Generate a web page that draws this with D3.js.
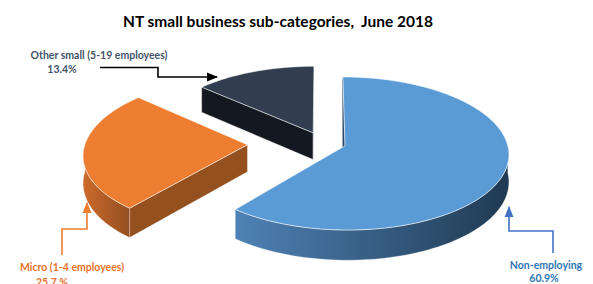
<!DOCTYPE html>
<html>
<head>
<meta charset="utf-8">
<script src="https://cdn.jsdelivr.net/npm/d3@7"></script>
<style>
body { margin: 0; background: #fff; }
svg { display: block; }
text { font-family: Lato, "Open Sans", sans-serif; font-weight: bold; white-space: pre; }
</style>
</head>
<body>
<svg id="chart"></svg>
<script>
var W = 593, H = 284

// data
var categories = ["Non-employing", "Micro (1-4 employees)", "Other small (5-19 employees)"]
var shares = [60.9, 25.7, 13.4]
var shareLabels = ["60.9%", "25.7 %", "13.4%"]
var explode = [0.15, 0.46, 0.135]

var topColors = ["#5b9bd5", "#ed7d31", "#323e4f"]
var sideLight = ["#4f82b6", "#cc6a2c", "#1a1f28"]
var sideDark = ["#1f3a52", "#8a4a1e", "#12161d"]
var faceColors = ["#2a4966", "#955020", "#141820"]
var labelColors = ["#2e75b6", "#e8732a", "#44546a"]
var arrowColors = ["#4472c4", "#ed7d31", "#000000"]

// projection of the tilted pie
var CX = 322, CY = 142, RX = 162, RY = 75, D = 27, K = 0.1

var svg = d3.select("#chart").attr("width", W).attr("height", H)

var defs = svg.append("defs")
arrowColors.forEach(function(c, i)
{
    defs.append("marker")
        .attr("id", "head" + i).attr("viewBox", "0 0 10 10")
        .attr("refX", 9).attr("refY", 5)
        .attr("markerWidth", 7).attr("markerHeight", 7)
        .attr("orient", "auto-start-reverse")
        .append("path").attr("d", "M0,1 L10,5 L0,9 Z").attr("fill", c)
})

// title
svg.append("text")
    .attr("x", 278).attr("y", 27)
    .attr("text-anchor", "middle")
    .style("font-size", "15.5px")
    .attr("fill", "#000")
    .text("NT small business sub-categories,  June 2018")

var pie = d3.pie().sort(null).value(function(d){return d})
var arcs = pie(shares)

var project = function(sl, theta, r, h)
{
    var X = sl.ox + r*Math.sin(theta)
    var Z = sl.oz + r*Math.cos(theta)
    var s = 1/(1 + K*Z)
    return [CX + X*RX*s, CY - Z*RY*s + h*D*s]
}

var arcPoints = function(sl, a0, a1, h)
{
    var n = Math.max(2, Math.ceil(Math.abs(a1 - a0)/0.03))
    var pts = []
    for (var i = 0; i <= n; i++)
    {
        pts.push(project(sl, a0 + (a1 - a0)*i/n, 1, h))
    }
    return pts
}

var line = d3.line()

var slices = arcs.map(function(a, i)
{
    var mid = (a.startAngle + a.endAngle)/2
    return {i: i, a0: a.startAngle, a1: a.endAngle,
            ox: explode[i]*Math.sin(mid), oz: explode[i]*Math.cos(mid)}
})

// back slices first
var order = [2, 1, 0]
order.forEach(function(i)
{
    var sl = slices[i]
    var g = svg.append("g").attr("class", "slice")

    var grad = defs.append("linearGradient")
        .attr("id", "side" + i)
        .attr("gradientUnits", "userSpaceOnUse")
    var xs = arcPoints(sl, sl.a0, sl.a1, 0).map(function(p){return p[0]})
    grad.attr("x1", d3.min(xs)).attr("x2", d3.max(xs)).attr("y1", 0).attr("y2", 0)
    grad.append("stop").attr("offset", 0).attr("stop-color", sideLight[i])
    grad.append("stop").attr("offset", 1).attr("stop-color", sideDark[i])

    // cut faces (edge-on ones still show a sliver because of perspective)
    var faces = []
    if (Math.sin(sl.a0) < 0.01) faces.push(sl.a0)
    if (Math.sin(sl.a1) > -0.01) faces.push(sl.a1)
    faces.forEach(function(t)
    {
        var c0 = project(sl, 0, 0, 0), p0 = project(sl, t, 1, 0)
        var p1 = project(sl, t, 1, 1), c1 = project(sl, 0, 0, 1)
        if (Math.abs(Math.sin(t)) < 0.01)
        {
            // thin sliver toward the bottom of the cut
            var dx = sl.ox > 0 ? -2.5 : 2.5
            p1 = [p0[0] + dx*0.3, p0[1] + 2]
            c1 = [c0[0] + dx, c0[1] + D]
            if (sl.ox < 0) { c1 = [c0[0], c0[1] + D] ; p1 = [p0[0], p0[1]] }
        }
        g.append("path")
            .attr("d", line([c0, p0, p1, c1]) + "Z")
            .attr("fill", faceColors[i])
            .attr("stroke", "rgba(255,255,255,0.5)")
            .attr("stroke-width", 0.6)
            .attr("stroke-linejoin", "round")
    })

    // outer wall, front half only
    var w0 = Math.max(sl.a0, Math.PI/2), w1 = Math.min(sl.a1, 3*Math.PI/2)
    if (w1 > w0)
    {
        var topEdge = arcPoints(sl, w0, w1, 0)
        var botEdge = arcPoints(sl, w0, w1, 1).reverse()
        g.append("path")
            .attr("d", line(topEdge.concat(botEdge)) + "Z")
            .attr("fill", "url(#side" + i + ")")
            .attr("stroke", "rgba(255,255,255,0.5)")
            .attr("stroke-width", 0.6)
    }

    // top surface
    var topPts = [project(sl, 0, 0, 0)].concat(arcPoints(sl, sl.a0, sl.a1, 0))
    g.append("path")
        .attr("d", line(topPts) + "Z")
        .attr("fill", topColors[i])
        .attr("stroke", "rgba(255,255,255,0.7)")
        .attr("stroke-width", 0.8)
        .attr("stroke-linejoin", "round")
})

// labels and elbow arrows
var labels = [
    {lines: [[546, 269], [544, 282]], path: [[553, 253], [553, 231], [509, 231], [509, 207]]},
    {lines: [[72, 271], [52, 286]], path: [[62, 255], [62, 229], [87, 229], [87, 203]]},
    {lines: [[99, 59], [62, 73]], path: [[100, 67.5], [158, 67.5], [158, 77], [217, 77]]}
]

labels.forEach(function(l, i)
{
    svg.append("path")
        .attr("d", line(l.path))
        .attr("fill", "none")
        .attr("stroke", arrowColors[i])
        .attr("stroke-width", 1.6)
        .attr("marker-end", "url(#head" + i + ")")

    svg.append("text")
        .attr("x", l.lines[0][0]).attr("y", l.lines[0][1])
        .attr("text-anchor", "middle")
        .style("font-size", "10.5px")
        .attr("fill", labelColors[i])
        .text(categories[i])
    svg.append("text")
        .attr("x", l.lines[1][0]).attr("y", l.lines[1][1])
        .attr("text-anchor", "middle")
        .style("font-size", "10.5px")
        .attr("fill", labelColors[i])
        .text(shareLabels[i])
})
</script>
</body>
</html>
